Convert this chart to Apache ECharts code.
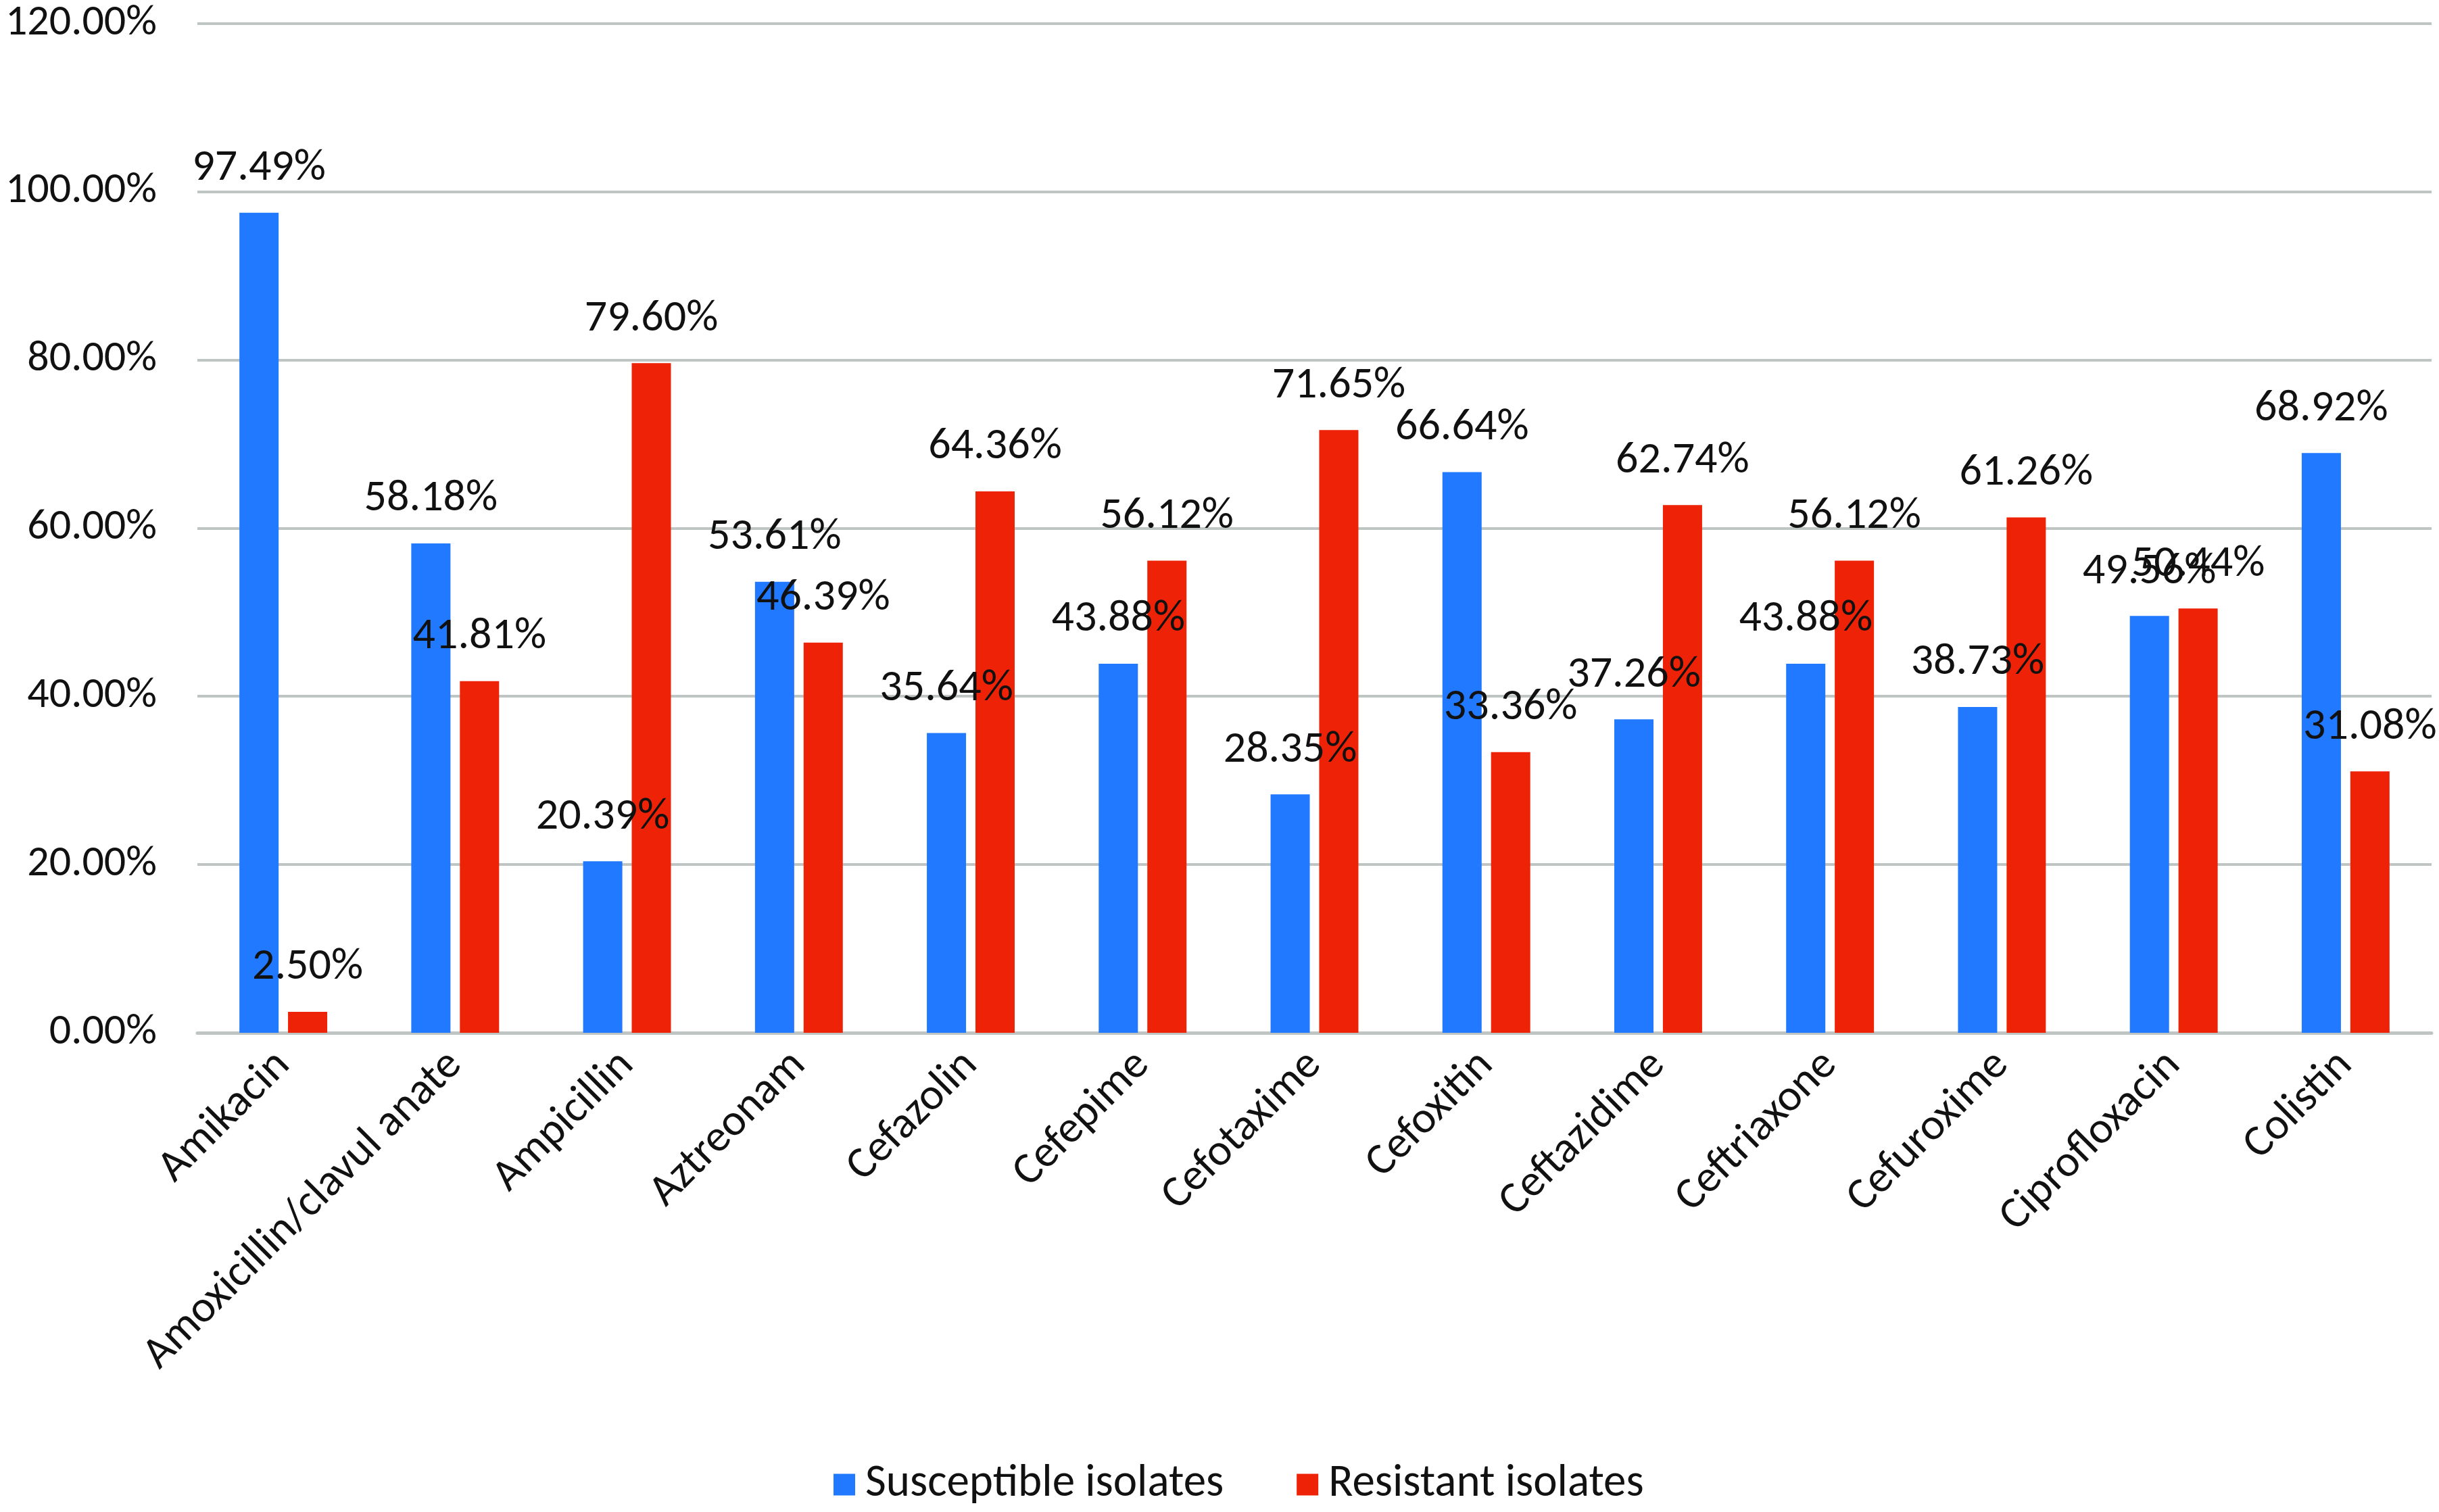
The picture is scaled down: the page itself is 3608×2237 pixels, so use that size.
<!DOCTYPE html>
<html>
<head>
<meta charset="utf-8">
<script src="https://cdn.jsdelivr.net/npm/echarts@6/dist/echarts.min.js"></script>
<style>
html,body{margin:0;padding:0;background:#fff;}
#chart{width:3608px;height:2237px;}
</style>
</head>
<body>
<div id="chart"></div>
<script>
const categories = ["Amikacin","Amoxicillin/clavul anate","Ampicillin","Aztreonam","Cefazolin","Cefepime","Cefotaxime","Cefoxitin","Ceftazidime","Ceftriaxone","Cefuroxime","Ciprofloxacin","Colistin"];
const susceptible = [97.49,58.18,20.39,53.61,35.64,43.88,28.35,66.64,37.26,43.88,38.73,49.56,68.92];
const resistant = [2.50,41.81,79.60,46.39,64.36,56.12,71.65,33.36,62.74,56.12,61.26,50.44,31.08];
const seriesNames = ["Susceptible isolates","Resistant isolates"];
const yTicks = {min:0, max:120, interval:20};

const FONT = "Carlito, Lato, sans-serif";
const chart = echarts.init(document.getElementById('chart'));
const labelCfg = {
  show:true, position:'top', distance:32,
  color:'#111', fontFamily:FONT, fontSize:66,
  formatter:p => p.value.toFixed(2)+'%'
};
chart.setOption({
  animation:false,
  backgroundColor:'#fff',
  grid:{left:292,right:11,top:34.5,bottom:709,containLabel:false},
  legend:{
    bottom:2, left:1228,
    itemWidth:32,itemHeight:32,itemGap:108,
    icon:'rect',
    textStyle:{fontFamily:FONT,fontSize:67,color:'#111',padding:[0,0,0,10]},
    data:seriesNames
  },
  xAxis:{
    type:'category', data:categories,
    axisLine:{lineStyle:{color:'#BFC5C2',width:5}},
    axisTick:{show:false},
    axisLabel:{rotate:45,margin:38,interval:0,color:'#111',fontFamily:FONT,fontSize:66}
  },
  yAxis:{
    type:'value', min:yTicks.min, max:yTicks.max, interval:yTicks.interval,
    axisLine:{show:false}, axisTick:{show:false},
    splitLine:{lineStyle:{color:'#BFC5C2',width:4}},
    axisLabel:{margin:60,color:'#111',fontFamily:FONT,fontSize:64,formatter:v=>v.toFixed(2)+'%'}
  },
  series:[
    {name:seriesNames[0],type:'bar',data:susceptible,barWidth:58,barGap:'24%',
     itemStyle:{color:'#2079FE'},label:labelCfg},
    {name:seriesNames[1],type:'bar',data:resistant,barWidth:58,barGap:'24%',
     itemStyle:{color:'#EE2207'},label:labelCfg}
  ]
});
</script>
</body>
</html>
